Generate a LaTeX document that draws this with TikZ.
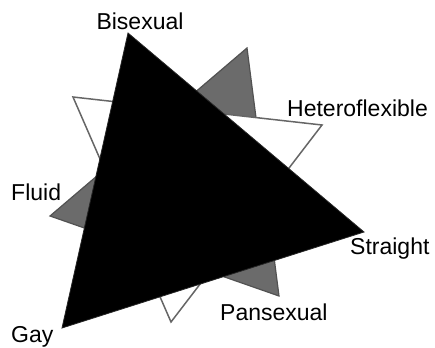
\documentclass[tikz,border=0pt]{standalone}
\usepackage{fontspec}
\setmainfont{Liberation Sans}
\begin{document}
\begin{tikzpicture}[x=1pt,y=-1pt,
  lbl/.style={font=\fontsize{23}{27}\selectfont, inner sep=0pt},
  graytri/.style={fill=black!58, draw=black!68, line width=1.2pt, line join=miter},
  whitetri/.style={fill=white, draw=black!60, line width=1.5pt, line join=miter},
  blacktri/.style={fill=black, draw=black!85, line width=0.8pt, line join=miter}]
\useasboundingbox (0,0) rectangle (435,347);
% gray triangle
\coordinate (g1) at (247,48);
\coordinate (g2) at (279,296);
\coordinate (g3) at (50,216);
\draw[graytri] (g1) -- (g2) -- (g3) -- cycle;
% white triangle
\coordinate (w1) at (73,97);
\coordinate (w2) at (322,125);
\coordinate (w3) at (171,322);
\draw[whitetri] (w1) -- (w2) -- (w3) -- cycle;
% black triangle
\coordinate (b1) at (128,33);
\coordinate (b2) at (364,232);
\coordinate (b3) at (62,328);
\draw[blacktri] (b1) -- (b2) -- (b3) -- cycle;
% labels
\node[lbl, anchor=base] (bi) at (140,30) {Bisexual};
\node[lbl, anchor=base west] (he) at (287,117) {Heteroflexible};
\node[lbl, anchor=base west] (fl) at (11,200) {Fluid};
\node[lbl, anchor=base west] (st) at (350,254) {Straight};
\node[lbl, anchor=base west] (pa) at (220,320) {Pansexual};
\node[lbl, anchor=base west] (ga) at (11,342) {Gay};
\end{tikzpicture}
\end{document}
